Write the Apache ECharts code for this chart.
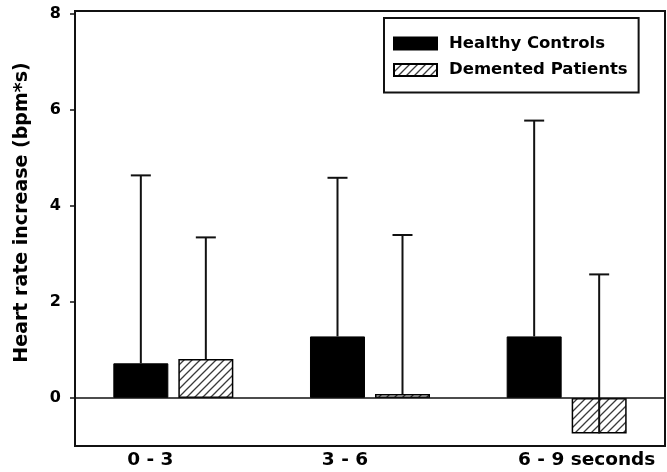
<!DOCTYPE html>
<html>
<head>
<meta charset="utf-8">
<script src="https://cdn.jsdelivr.net/npm/echarts@6/dist/echarts.min.js"></script>
<style>
  html, body { margin: 0; padding: 0; background: #fff; }
  #chart { width: 667px; height: 472px; }
</style>
</head>
<body>
<div id="chart"></div>
<script>
// Heart rate increase per time window, mean with upward SD whisker
const categories = ['0 - 3', '3 - 6', '6 - 9 seconds'];
const healthyMean = [0.72, 1.28, 1.28];
const healthySd = [3.91, 3.30, 4.49];
const dementedMean = [0.81, 0.08, -0.74];
const dementedSd = [2.53, 3.31, 3.31];
const yTicks = [0, 2, 4, 6, 8];

const FONT = 'DejaVu Sans';
const BAR_W = 55;
const BAR_GAP = 10;

// diagonal hatch tile for the second group
function hatchTile() {
  const c = document.createElement('canvas');
  const s = 8;
  c.width = s; c.height = s;
  const g = c.getContext('2d');
  g.fillStyle = '#fff';
  g.fillRect(0, 0, s, s);
  g.strokeStyle = '#3a3a3a';
  g.lineWidth = 1.3;
  g.beginPath();
  g.moveTo(0, s); g.lineTo(s, 0);
  g.moveTo(-s / 2, s / 2); g.lineTo(s / 2, -s / 2);
  g.moveTo(s / 2, s * 1.5); g.lineTo(s * 1.5, s / 2);
  g.stroke();
  return c;
}
const hatch = { image: hatchTile(), repeat: 'repeat' };

function whiskers(means, sds, offset) {
  return {
    type: 'custom',
    z: 10,
    silent: true,
    data: means.map((m, i) => [i, m, m + sds[i]]),
    encode: { x: 0, y: [1, 2] },
    renderItem: function (params, api) {
      const i = api.value(0);
      const base = api.coord([i, api.value(1)]);
      const top = api.coord([i, api.value(2)]);
      const x = base[0] + offset;
      const st = { stroke: '#111', lineWidth: 2 };
      return {
        type: 'group',
        children: [
          { type: 'line', shape: { x1: x, y1: base[1], x2: x, y2: top[1] }, style: st },
          { type: 'line', shape: { x1: x - 10, y1: top[1], x2: x + 10, y2: top[1] }, style: st }
        ]
      };
    }
  };
}

const labelShift = [
  { padding: [0, 46, 0, 0] },
  { padding: [0, 50, 0, 0] },
  { padding: [0, 0, 0, 40] }
];

const chart = echarts.init(document.getElementById('chart'), null, { renderer: 'canvas' });
chart.setOption({
  animation: false,
  backgroundColor: '#fff',
  textStyle: { fontFamily: FONT, fontWeight: 'bold', color: '#000' },
  grid: {
    left: 75, right: 2, top: 11, bottom: 26,
    show: true, borderColor: '#111', borderWidth: 2, backgroundColor: 'transparent'
  },
  legend: {
    data: ['Healthy Controls', 'Demented Patients'],
    orient: 'vertical',
    left: 384, top: 18,
    padding: [17, 11, 14, 9],
    itemGap: 9.5,
    itemWidth: 43, itemHeight: 12,
    borderColor: '#111', borderWidth: 2,
    icon: 'rect',
    textStyle: { fontFamily: FONT, fontWeight: 'bold', fontSize: 16.5, color: '#000', padding: [0, 0, 0, 7], lineHeight: 17 }
  },
  xAxis: {
    type: 'category',
    data: categories.map((c, i) => ({ value: c, textStyle: labelShift[i] })),
    axisTick: { show: false },
    axisLine: { show: true, onZero: false, lineStyle: { color: '#111', width: 2 } },
    axisLabel: { fontFamily: FONT, fontWeight: 'bold', fontSize: 18.5, color: '#000', margin: 5, interval: 0 }
  },
  yAxis: {
    type: 'value',
    min: -1, max: 8.05,
    name: 'Heart rate increase (bpm*s)',
    nameLocation: 'middle',
    nameGap: 43,
    nameTextStyle: { fontFamily: FONT, fontWeight: 'bold', fontSize: 19, color: '#000', padding: [0, 0, 0, 32] },
    axisLine: { show: true, lineStyle: { color: '#111', width: 2 } },
    axisTick: { show: true, inside: false, length: 5, customValues: yTicks, lineStyle: { color: '#111', width: 1.5 } },
    axisLabel: { customValues: yTicks, fontFamily: FONT, fontWeight: 'bold', fontSize: 16, color: '#000', margin: 14 },
    splitLine: { show: false }
  },
  series: [
    {
      name: 'Healthy Controls',
      type: 'bar',
      data: healthyMean,
      barWidth: BAR_W,
      barGap: (BAR_GAP / BAR_W * 100).toFixed(1) + '%',
      itemStyle: { color: '#000', borderColor: '#000', borderWidth: 1 },
      markLine: {
        silent: true,
        symbol: ['none', 'none'],
        label: { show: false },
        lineStyle: { color: '#111', width: 1.5, type: 'solid' },
        data: [{ yAxis: 0 }]
      }
    },
    {
      name: 'Demented Patients',
      type: 'bar',
      data: dementedMean,
      barWidth: BAR_W,
      itemStyle: { color: hatch, borderColor: '#000', borderWidth: 1.5 }
    },
    whiskers(healthyMean, healthySd, -(BAR_W + BAR_GAP) / 2),
    whiskers(dementedMean, dementedSd, (BAR_W + BAR_GAP) / 2)
  ]
});
</script>
</body>
</html>
